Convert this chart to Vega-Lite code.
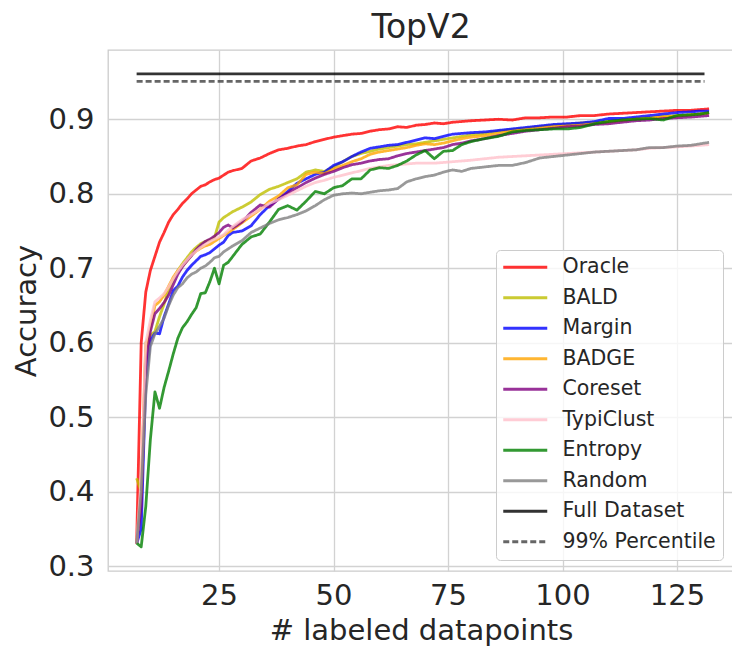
{
  "$schema": "https://vega.github.io/schema/vega-lite/v6.json",
  "width": 626,
  "height": 521,
  "autosize": {"type": "none"},
  "padding": {"left": 108, "top": 50, "right": 0, "bottom": 80},
  "background": "white",
  "config": {
    "font": "DejaVu Sans",
    "view": {"stroke": "#cccccc", "strokeWidth": 1.3},
    "axis": {
      "domain": false, "ticks": false, "tickSize": 0,
      "gridColor": "#d2d2d2", "gridWidth": 1.3,
      "labelFont": "DejaVu Sans", "labelFontSize": 29, "labelColor": "#262626",
      "titleFont": "DejaVu Sans", "titleFontSize": 29, "titleColor": "#262626", "titleFontWeight": "normal"
    }
  },
  "title": {"text": "TopV2", "frame": "group", "font": "DejaVu Sans", "fontSize": 33, "fontWeight": "normal", "color": "#262626", "offset": 5},
  "data": {"values": [
    {"m":"Oracle","x":7,"y":0.33},{"m":"Oracle","x":8,"y":0.6},{"m":"Oracle","x":9,"y":0.668},{"m":"Oracle","x":10,"y":0.697},{"m":"Oracle","x":11,"y":0.716},{"m":"Oracle","x":12,"y":0.735},{"m":"Oracle","x":13,"y":0.748},{"m":"Oracle","x":14,"y":0.762},{"m":"Oracle","x":15,"y":0.772},{"m":"Oracle","x":16,"y":0.779},{"m":"Oracle","x":17,"y":0.787},{"m":"Oracle","x":18,"y":0.793},{"m":"Oracle","x":19,"y":0.8},{"m":"Oracle","x":20,"y":0.805},{"m":"Oracle","x":21,"y":0.81},{"m":"Oracle","x":22,"y":0.812},{"m":"Oracle","x":23,"y":0.816},{"m":"Oracle","x":24,"y":0.819},{"m":"Oracle","x":25,"y":0.821},{"m":"Oracle","x":26,"y":0.825},{"m":"Oracle","x":27,"y":0.829},{"m":"Oracle","x":28,"y":0.831},{"m":"Oracle","x":30,"y":0.834},{"m":"Oracle","x":32,"y":0.844},{"m":"Oracle","x":34,"y":0.848},{"m":"Oracle","x":36,"y":0.854},{"m":"Oracle","x":38,"y":0.859},{"m":"Oracle","x":40,"y":0.861},{"m":"Oracle","x":42,"y":0.864},{"m":"Oracle","x":44,"y":0.866},{"m":"Oracle","x":46,"y":0.87},{"m":"Oracle","x":48,"y":0.873},{"m":"Oracle","x":50,"y":0.876},{"m":"Oracle","x":52,"y":0.878},{"m":"Oracle","x":54,"y":0.88},{"m":"Oracle","x":56,"y":0.881},{"m":"Oracle","x":58,"y":0.884},{"m":"Oracle","x":60,"y":0.886},{"m":"Oracle","x":62,"y":0.887},{"m":"Oracle","x":64,"y":0.89},{"m":"Oracle","x":66,"y":0.889},{"m":"Oracle","x":68,"y":0.892},{"m":"Oracle","x":70,"y":0.893},{"m":"Oracle","x":72,"y":0.895},{"m":"Oracle","x":74,"y":0.894},{"m":"Oracle","x":76,"y":0.896},{"m":"Oracle","x":78,"y":0.897},{"m":"Oracle","x":80,"y":0.898},{"m":"Oracle","x":83,"y":0.899},{"m":"Oracle","x":86,"y":0.9},{"m":"Oracle","x":89,"y":0.899},{"m":"Oracle","x":92,"y":0.902},{"m":"Oracle","x":95,"y":0.902},{"m":"Oracle","x":98,"y":0.903},{"m":"Oracle","x":101,"y":0.903},{"m":"Oracle","x":104,"y":0.905},{"m":"Oracle","x":107,"y":0.905},{"m":"Oracle","x":110,"y":0.907},{"m":"Oracle","x":113,"y":0.908},{"m":"Oracle","x":116,"y":0.909},{"m":"Oracle","x":119,"y":0.91},{"m":"Oracle","x":122,"y":0.911},{"m":"Oracle","x":125,"y":0.912},{"m":"Oracle","x":128,"y":0.912},{"m":"Oracle","x":130,"y":0.913},{"m":"Oracle","x":132,"y":0.914},

    {"m":"BALD","x":7,"y":0.418},{"m":"BALD","x":8,"y":0.4},{"m":"BALD","x":9,"y":0.6},{"m":"BALD","x":10,"y":0.61},{"m":"BALD","x":11,"y":0.615},{"m":"BALD","x":12,"y":0.635},{"m":"BALD","x":13,"y":0.652},{"m":"BALD","x":14,"y":0.672},{"m":"BALD","x":15,"y":0.685},{"m":"BALD","x":16,"y":0.697},{"m":"BALD","x":17,"y":0.706},{"m":"BALD","x":18,"y":0.714},{"m":"BALD","x":19,"y":0.722},{"m":"BALD","x":20,"y":0.728},{"m":"BALD","x":21,"y":0.733},{"m":"BALD","x":22,"y":0.736},{"m":"BALD","x":23,"y":0.738},{"m":"BALD","x":24,"y":0.741},{"m":"BALD","x":25,"y":0.762},{"m":"BALD","x":26,"y":0.768},{"m":"BALD","x":27,"y":0.772},{"m":"BALD","x":28,"y":0.776},{"m":"BALD","x":30,"y":0.782},{"m":"BALD","x":32,"y":0.789},{"m":"BALD","x":34,"y":0.799},{"m":"BALD","x":36,"y":0.806},{"m":"BALD","x":38,"y":0.81},{"m":"BALD","x":40,"y":0.815},{"m":"BALD","x":42,"y":0.82},{"m":"BALD","x":44,"y":0.829},{"m":"BALD","x":46,"y":0.832},{"m":"BALD","x":48,"y":0.83},{"m":"BALD","x":50,"y":0.836},{"m":"BALD","x":52,"y":0.843},{"m":"BALD","x":54,"y":0.85},{"m":"BALD","x":56,"y":0.854},{"m":"BALD","x":58,"y":0.857},{"m":"BALD","x":60,"y":0.86},{"m":"BALD","x":62,"y":0.862},{"m":"BALD","x":64,"y":0.864},{"m":"BALD","x":66,"y":0.866},{"m":"BALD","x":68,"y":0.867},{"m":"BALD","x":70,"y":0.869},{"m":"BALD","x":72,"y":0.871},{"m":"BALD","x":74,"y":0.873},{"m":"BALD","x":76,"y":0.875},{"m":"BALD","x":78,"y":0.877},{"m":"BALD","x":80,"y":0.879},{"m":"BALD","x":83,"y":0.881},{"m":"BALD","x":86,"y":0.884},{"m":"BALD","x":89,"y":0.886},{"m":"BALD","x":92,"y":0.888},{"m":"BALD","x":95,"y":0.89},{"m":"BALD","x":98,"y":0.892},{"m":"BALD","x":101,"y":0.893},{"m":"BALD","x":104,"y":0.895},{"m":"BALD","x":107,"y":0.896},{"m":"BALD","x":110,"y":0.897},{"m":"BALD","x":113,"y":0.899},{"m":"BALD","x":116,"y":0.901},{"m":"BALD","x":119,"y":0.902},{"m":"BALD","x":122,"y":0.904},{"m":"BALD","x":125,"y":0.905},{"m":"BALD","x":128,"y":0.906},{"m":"BALD","x":130,"y":0.907},{"m":"BALD","x":132,"y":0.909},

    {"m":"Margin","x":7,"y":0.33},{"m":"Margin","x":8,"y":0.35},{"m":"Margin","x":9,"y":0.55},{"m":"Margin","x":10,"y":0.603},{"m":"Margin","x":11,"y":0.613},{"m":"Margin","x":12,"y":0.612},{"m":"Margin","x":13,"y":0.635},{"m":"Margin","x":14,"y":0.652},{"m":"Margin","x":15,"y":0.67},{"m":"Margin","x":16,"y":0.676},{"m":"Margin","x":17,"y":0.688},{"m":"Margin","x":18,"y":0.697},{"m":"Margin","x":19,"y":0.704},{"m":"Margin","x":20,"y":0.71},{"m":"Margin","x":21,"y":0.716},{"m":"Margin","x":22,"y":0.718},{"m":"Margin","x":23,"y":0.721},{"m":"Margin","x":24,"y":0.726},{"m":"Margin","x":25,"y":0.731},{"m":"Margin","x":26,"y":0.735},{"m":"Margin","x":27,"y":0.744},{"m":"Margin","x":28,"y":0.748},{"m":"Margin","x":30,"y":0.75},{"m":"Margin","x":32,"y":0.757},{"m":"Margin","x":34,"y":0.772},{"m":"Margin","x":36,"y":0.784},{"m":"Margin","x":38,"y":0.793},{"m":"Margin","x":40,"y":0.803},{"m":"Margin","x":42,"y":0.814},{"m":"Margin","x":44,"y":0.82},{"m":"Margin","x":46,"y":0.826},{"m":"Margin","x":48,"y":0.829},{"m":"Margin","x":50,"y":0.838},{"m":"Margin","x":52,"y":0.843},{"m":"Margin","x":54,"y":0.85},{"m":"Margin","x":56,"y":0.856},{"m":"Margin","x":58,"y":0.861},{"m":"Margin","x":60,"y":0.863},{"m":"Margin","x":62,"y":0.865},{"m":"Margin","x":64,"y":0.866},{"m":"Margin","x":66,"y":0.869},{"m":"Margin","x":68,"y":0.872},{"m":"Margin","x":70,"y":0.875},{"m":"Margin","x":72,"y":0.874},{"m":"Margin","x":74,"y":0.877},{"m":"Margin","x":76,"y":0.88},{"m":"Margin","x":78,"y":0.881},{"m":"Margin","x":80,"y":0.882},{"m":"Margin","x":83,"y":0.883},{"m":"Margin","x":86,"y":0.885},{"m":"Margin","x":89,"y":0.887},{"m":"Margin","x":92,"y":0.889},{"m":"Margin","x":95,"y":0.891},{"m":"Margin","x":98,"y":0.893},{"m":"Margin","x":101,"y":0.894},{"m":"Margin","x":104,"y":0.895},{"m":"Margin","x":107,"y":0.897},{"m":"Margin","x":110,"y":0.901},{"m":"Margin","x":113,"y":0.901},{"m":"Margin","x":116,"y":0.903},{"m":"Margin","x":119,"y":0.905},{"m":"Margin","x":122,"y":0.907},{"m":"Margin","x":125,"y":0.909},{"m":"Margin","x":128,"y":0.91},{"m":"Margin","x":130,"y":0.911},{"m":"Margin","x":132,"y":0.911},

    {"m":"BADGE","x":7,"y":0.33},{"m":"BADGE","x":8,"y":0.4},{"m":"BADGE","x":9,"y":0.59},{"m":"BADGE","x":10,"y":0.62},{"m":"BADGE","x":11,"y":0.65},{"m":"BADGE","x":12,"y":0.655},{"m":"BADGE","x":13,"y":0.664},{"m":"BADGE","x":14,"y":0.676},{"m":"BADGE","x":15,"y":0.688},{"m":"BADGE","x":16,"y":0.697},{"m":"BADGE","x":17,"y":0.703},{"m":"BADGE","x":18,"y":0.71},{"m":"BADGE","x":19,"y":0.718},{"m":"BADGE","x":20,"y":0.723},{"m":"BADGE","x":21,"y":0.727},{"m":"BADGE","x":22,"y":0.73},{"m":"BADGE","x":23,"y":0.732},{"m":"BADGE","x":24,"y":0.736},{"m":"BADGE","x":25,"y":0.74},{"m":"BADGE","x":26,"y":0.744},{"m":"BADGE","x":27,"y":0.748},{"m":"BADGE","x":28,"y":0.752},{"m":"BADGE","x":30,"y":0.761},{"m":"BADGE","x":32,"y":0.77},{"m":"BADGE","x":34,"y":0.779},{"m":"BADGE","x":36,"y":0.79},{"m":"BADGE","x":38,"y":0.797},{"m":"BADGE","x":40,"y":0.808},{"m":"BADGE","x":42,"y":0.812},{"m":"BADGE","x":44,"y":0.826},{"m":"BADGE","x":46,"y":0.829},{"m":"BADGE","x":48,"y":0.827},{"m":"BADGE","x":50,"y":0.833},{"m":"BADGE","x":52,"y":0.838},{"m":"BADGE","x":54,"y":0.843},{"m":"BADGE","x":56,"y":0.847},{"m":"BADGE","x":58,"y":0.853},{"m":"BADGE","x":60,"y":0.856},{"m":"BADGE","x":62,"y":0.858},{"m":"BADGE","x":64,"y":0.86},{"m":"BADGE","x":66,"y":0.862},{"m":"BADGE","x":68,"y":0.865},{"m":"BADGE","x":70,"y":0.867},{"m":"BADGE","x":72,"y":0.866},{"m":"BADGE","x":74,"y":0.868},{"m":"BADGE","x":76,"y":0.871},{"m":"BADGE","x":78,"y":0.874},{"m":"BADGE","x":80,"y":0.876},{"m":"BADGE","x":83,"y":0.878},{"m":"BADGE","x":86,"y":0.881},{"m":"BADGE","x":89,"y":0.884},{"m":"BADGE","x":92,"y":0.886},{"m":"BADGE","x":95,"y":0.888},{"m":"BADGE","x":98,"y":0.89},{"m":"BADGE","x":101,"y":0.891},{"m":"BADGE","x":104,"y":0.892},{"m":"BADGE","x":107,"y":0.894},{"m":"BADGE","x":110,"y":0.896},{"m":"BADGE","x":113,"y":0.898},{"m":"BADGE","x":116,"y":0.9},{"m":"BADGE","x":119,"y":0.901},{"m":"BADGE","x":122,"y":0.903},{"m":"BADGE","x":125,"y":0.904},{"m":"BADGE","x":128,"y":0.906},{"m":"BADGE","x":130,"y":0.907},{"m":"BADGE","x":132,"y":0.908},

    {"m":"Coreset","x":7,"y":0.33},{"m":"Coreset","x":8,"y":0.38},{"m":"Coreset","x":9,"y":0.57},{"m":"Coreset","x":10,"y":0.615},{"m":"Coreset","x":11,"y":0.639},{"m":"Coreset","x":12,"y":0.646},{"m":"Coreset","x":13,"y":0.654},{"m":"Coreset","x":14,"y":0.664},{"m":"Coreset","x":15,"y":0.678},{"m":"Coreset","x":16,"y":0.692},{"m":"Coreset","x":17,"y":0.702},{"m":"Coreset","x":18,"y":0.71},{"m":"Coreset","x":19,"y":0.717},{"m":"Coreset","x":20,"y":0.725},{"m":"Coreset","x":21,"y":0.731},{"m":"Coreset","x":22,"y":0.736},{"m":"Coreset","x":23,"y":0.739},{"m":"Coreset","x":24,"y":0.743},{"m":"Coreset","x":25,"y":0.748},{"m":"Coreset","x":26,"y":0.755},{"m":"Coreset","x":27,"y":0.758},{"m":"Coreset","x":28,"y":0.754},{"m":"Coreset","x":30,"y":0.762},{"m":"Coreset","x":32,"y":0.775},{"m":"Coreset","x":34,"y":0.785},{"m":"Coreset","x":36,"y":0.782},{"m":"Coreset","x":38,"y":0.793},{"m":"Coreset","x":40,"y":0.801},{"m":"Coreset","x":42,"y":0.808},{"m":"Coreset","x":44,"y":0.815},{"m":"Coreset","x":46,"y":0.821},{"m":"Coreset","x":48,"y":0.826},{"m":"Coreset","x":50,"y":0.83},{"m":"Coreset","x":52,"y":0.835},{"m":"Coreset","x":54,"y":0.839},{"m":"Coreset","x":56,"y":0.841},{"m":"Coreset","x":58,"y":0.844},{"m":"Coreset","x":60,"y":0.846},{"m":"Coreset","x":62,"y":0.847},{"m":"Coreset","x":64,"y":0.851},{"m":"Coreset","x":66,"y":0.854},{"m":"Coreset","x":68,"y":0.856},{"m":"Coreset","x":70,"y":0.858},{"m":"Coreset","x":72,"y":0.86},{"m":"Coreset","x":74,"y":0.862},{"m":"Coreset","x":76,"y":0.866},{"m":"Coreset","x":78,"y":0.868},{"m":"Coreset","x":80,"y":0.871},{"m":"Coreset","x":83,"y":0.874},{"m":"Coreset","x":86,"y":0.878},{"m":"Coreset","x":89,"y":0.881},{"m":"Coreset","x":92,"y":0.884},{"m":"Coreset","x":95,"y":0.886},{"m":"Coreset","x":98,"y":0.888},{"m":"Coreset","x":101,"y":0.89},{"m":"Coreset","x":104,"y":0.891},{"m":"Coreset","x":107,"y":0.893},{"m":"Coreset","x":110,"y":0.894},{"m":"Coreset","x":113,"y":0.896},{"m":"Coreset","x":116,"y":0.898},{"m":"Coreset","x":119,"y":0.899},{"m":"Coreset","x":122,"y":0.901},{"m":"Coreset","x":125,"y":0.902},{"m":"Coreset","x":128,"y":0.903},{"m":"Coreset","x":130,"y":0.904},{"m":"Coreset","x":132,"y":0.905},

    {"m":"TypiClust","x":7,"y":0.33},{"m":"TypiClust","x":8,"y":0.42},{"m":"TypiClust","x":9,"y":0.6},{"m":"TypiClust","x":10,"y":0.63},{"m":"TypiClust","x":11,"y":0.655},{"m":"TypiClust","x":12,"y":0.66},{"m":"TypiClust","x":13,"y":0.666},{"m":"TypiClust","x":14,"y":0.675},{"m":"TypiClust","x":15,"y":0.686},{"m":"TypiClust","x":16,"y":0.696},{"m":"TypiClust","x":17,"y":0.704},{"m":"TypiClust","x":18,"y":0.711},{"m":"TypiClust","x":19,"y":0.718},{"m":"TypiClust","x":20,"y":0.723},{"m":"TypiClust","x":21,"y":0.728},{"m":"TypiClust","x":22,"y":0.732},{"m":"TypiClust","x":23,"y":0.736},{"m":"TypiClust","x":24,"y":0.739},{"m":"TypiClust","x":25,"y":0.742},{"m":"TypiClust","x":26,"y":0.745},{"m":"TypiClust","x":27,"y":0.751},{"m":"TypiClust","x":28,"y":0.756},{"m":"TypiClust","x":30,"y":0.765},{"m":"TypiClust","x":32,"y":0.772},{"m":"TypiClust","x":34,"y":0.779},{"m":"TypiClust","x":36,"y":0.787},{"m":"TypiClust","x":38,"y":0.792},{"m":"TypiClust","x":40,"y":0.798},{"m":"TypiClust","x":42,"y":0.804},{"m":"TypiClust","x":44,"y":0.81},{"m":"TypiClust","x":46,"y":0.815},{"m":"TypiClust","x":48,"y":0.818},{"m":"TypiClust","x":50,"y":0.822},{"m":"TypiClust","x":52,"y":0.825},{"m":"TypiClust","x":54,"y":0.828},{"m":"TypiClust","x":56,"y":0.831},{"m":"TypiClust","x":58,"y":0.834},{"m":"TypiClust","x":60,"y":0.836},{"m":"TypiClust","x":62,"y":0.838},{"m":"TypiClust","x":64,"y":0.839},{"m":"TypiClust","x":66,"y":0.84},{"m":"TypiClust","x":68,"y":0.841},{"m":"TypiClust","x":70,"y":0.841},{"m":"TypiClust","x":72,"y":0.841},{"m":"TypiClust","x":74,"y":0.842},{"m":"TypiClust","x":76,"y":0.843},{"m":"TypiClust","x":78,"y":0.844},{"m":"TypiClust","x":80,"y":0.845},{"m":"TypiClust","x":83,"y":0.847},{"m":"TypiClust","x":86,"y":0.849},{"m":"TypiClust","x":89,"y":0.85},{"m":"TypiClust","x":92,"y":0.851},{"m":"TypiClust","x":95,"y":0.852},{"m":"TypiClust","x":98,"y":0.853},{"m":"TypiClust","x":101,"y":0.854},{"m":"TypiClust","x":104,"y":0.855},{"m":"TypiClust","x":107,"y":0.856},{"m":"TypiClust","x":110,"y":0.857},{"m":"TypiClust","x":113,"y":0.858},{"m":"TypiClust","x":116,"y":0.859},{"m":"TypiClust","x":119,"y":0.861},{"m":"TypiClust","x":122,"y":0.862},{"m":"TypiClust","x":125,"y":0.863},{"m":"TypiClust","x":128,"y":0.864},{"m":"TypiClust","x":130,"y":0.865},{"m":"TypiClust","x":132,"y":0.866},

    {"m":"Entropy","x":7,"y":0.331},{"m":"Entropy","x":8,"y":0.326},{"m":"Entropy","x":9,"y":0.38},{"m":"Entropy","x":10,"y":0.47},{"m":"Entropy","x":11,"y":0.534},{"m":"Entropy","x":12,"y":0.512},{"m":"Entropy","x":13,"y":0.54},{"m":"Entropy","x":14,"y":0.562},{"m":"Entropy","x":15,"y":0.585},{"m":"Entropy","x":16,"y":0.606},{"m":"Entropy","x":17,"y":0.62},{"m":"Entropy","x":18,"y":0.628},{"m":"Entropy","x":19,"y":0.638},{"m":"Entropy","x":20,"y":0.647},{"m":"Entropy","x":21,"y":0.666},{"m":"Entropy","x":22,"y":0.667},{"m":"Entropy","x":23,"y":0.682},{"m":"Entropy","x":24,"y":0.7},{"m":"Entropy","x":25,"y":0.679},{"m":"Entropy","x":26,"y":0.704},{"m":"Entropy","x":27,"y":0.708},{"m":"Entropy","x":28,"y":0.716},{"m":"Entropy","x":30,"y":0.732},{"m":"Entropy","x":32,"y":0.742},{"m":"Entropy","x":34,"y":0.746},{"m":"Entropy","x":36,"y":0.762},{"m":"Entropy","x":38,"y":0.779},{"m":"Entropy","x":40,"y":0.784},{"m":"Entropy","x":42,"y":0.778},{"m":"Entropy","x":44,"y":0.79},{"m":"Entropy","x":46,"y":0.803},{"m":"Entropy","x":48,"y":0.8},{"m":"Entropy","x":50,"y":0.808},{"m":"Entropy","x":52,"y":0.811},{"m":"Entropy","x":54,"y":0.82},{"m":"Entropy","x":56,"y":0.82},{"m":"Entropy","x":58,"y":0.832},{"m":"Entropy","x":60,"y":0.835},{"m":"Entropy","x":62,"y":0.834},{"m":"Entropy","x":64,"y":0.838},{"m":"Entropy","x":66,"y":0.844},{"m":"Entropy","x":68,"y":0.852},{"m":"Entropy","x":70,"y":0.858},{"m":"Entropy","x":72,"y":0.847},{"m":"Entropy","x":74,"y":0.857},{"m":"Entropy","x":76,"y":0.858},{"m":"Entropy","x":78,"y":0.866},{"m":"Entropy","x":80,"y":0.87},{"m":"Entropy","x":83,"y":0.874},{"m":"Entropy","x":86,"y":0.877},{"m":"Entropy","x":89,"y":0.883},{"m":"Entropy","x":92,"y":0.885},{"m":"Entropy","x":95,"y":0.886},{"m":"Entropy","x":98,"y":0.887},{"m":"Entropy","x":101,"y":0.887},{"m":"Entropy","x":104,"y":0.889},{"m":"Entropy","x":107,"y":0.894},{"m":"Entropy","x":110,"y":0.897},{"m":"Entropy","x":113,"y":0.899},{"m":"Entropy","x":116,"y":0.9},{"m":"Entropy","x":119,"y":0.901},{"m":"Entropy","x":122,"y":0.899},{"m":"Entropy","x":125,"y":0.905},{"m":"Entropy","x":128,"y":0.906},{"m":"Entropy","x":130,"y":0.907},{"m":"Entropy","x":132,"y":0.909},

    {"m":"Random","x":7,"y":0.331},{"m":"Random","x":8,"y":0.4},{"m":"Random","x":9,"y":0.53},{"m":"Random","x":10,"y":0.595},{"m":"Random","x":11,"y":0.612},{"m":"Random","x":12,"y":0.622},{"m":"Random","x":13,"y":0.633},{"m":"Random","x":14,"y":0.65},{"m":"Random","x":15,"y":0.664},{"m":"Random","x":16,"y":0.674},{"m":"Random","x":17,"y":0.679},{"m":"Random","x":18,"y":0.687},{"m":"Random","x":19,"y":0.692},{"m":"Random","x":20,"y":0.695},{"m":"Random","x":21,"y":0.7},{"m":"Random","x":22,"y":0.703},{"m":"Random","x":23,"y":0.708},{"m":"Random","x":24,"y":0.714},{"m":"Random","x":25,"y":0.716},{"m":"Random","x":26,"y":0.722},{"m":"Random","x":27,"y":0.726},{"m":"Random","x":28,"y":0.73},{"m":"Random","x":30,"y":0.737},{"m":"Random","x":32,"y":0.748},{"m":"Random","x":34,"y":0.754},{"m":"Random","x":36,"y":0.76},{"m":"Random","x":38,"y":0.765},{"m":"Random","x":40,"y":0.768},{"m":"Random","x":42,"y":0.772},{"m":"Random","x":44,"y":0.777},{"m":"Random","x":46,"y":0.784},{"m":"Random","x":48,"y":0.792},{"m":"Random","x":50,"y":0.798},{"m":"Random","x":52,"y":0.8},{"m":"Random","x":54,"y":0.801},{"m":"Random","x":56,"y":0.8},{"m":"Random","x":58,"y":0.802},{"m":"Random","x":60,"y":0.804},{"m":"Random","x":62,"y":0.805},{"m":"Random","x":64,"y":0.807},{"m":"Random","x":66,"y":0.816},{"m":"Random","x":68,"y":0.82},{"m":"Random","x":70,"y":0.823},{"m":"Random","x":72,"y":0.825},{"m":"Random","x":74,"y":0.829},{"m":"Random","x":76,"y":0.832},{"m":"Random","x":78,"y":0.83},{"m":"Random","x":80,"y":0.834},{"m":"Random","x":83,"y":0.836},{"m":"Random","x":86,"y":0.838},{"m":"Random","x":89,"y":0.838},{"m":"Random","x":92,"y":0.842},{"m":"Random","x":95,"y":0.848},{"m":"Random","x":98,"y":0.85},{"m":"Random","x":101,"y":0.852},{"m":"Random","x":104,"y":0.854},{"m":"Random","x":107,"y":0.856},{"m":"Random","x":110,"y":0.857},{"m":"Random","x":113,"y":0.858},{"m":"Random","x":116,"y":0.859},{"m":"Random","x":119,"y":0.862},{"m":"Random","x":122,"y":0.862},{"m":"Random","x":125,"y":0.864},{"m":"Random","x":128,"y":0.865},{"m":"Random","x":130,"y":0.867},{"m":"Random","x":132,"y":0.869},

    {"m":"Full Dataset","x":7,"y":0.961},{"m":"Full Dataset","x":131,"y":0.961},
    {"m":"99% Percentile","x":7,"y":0.951},{"m":"99% Percentile","x":131,"y":0.951}
  ]},
  "mark": {"type": "line", "opacity": 0.8, "strokeJoin": "round"},
  "encoding": {
    "x": {"field": "x", "type": "quantitative", "title": "# labeled datapoints",
      "scale": {"domain": [0.75, 137.44], "nice": false, "zero": false},
      "axis": {"values": [25, 50, 75, 100, 125], "labelPadding": 10, "titlePadding": 6, "labelFlush": false}},
    "y": {"field": "y", "type": "quantitative", "title": "Accuracy",
      "scale": {"domain": [0.2935, 0.993], "nice": false, "zero": false},
      "axis": {"values": [0.3, 0.4, 0.5, 0.6, 0.7, 0.8, 0.9], "format": ".1f", "labelPadding": 14, "titlePadding": 6, "labelFlush": false}},
    "color": {"field": "m", "type": "nominal", "title": null,
      "scale": {"domain": ["Oracle","BALD","Margin","BADGE","Coreset","TypiClust","Entropy","Random","Full Dataset","99% Percentile"],
        "range": ["#ff0000","#bfbf00","#0000ff","#ffa500","#800080","#ffc0cb","#008000","#808080","#000000","#404040"]},
      "legend": {"orient": "none", "legendX": 388, "legendY": 200, "labelFontSize": 20.5, "labelColor": "#262626", "labelFont": "DejaVu Sans",
        "symbolType": "M-4.4,0H4.4", "symbolSize": 100, "symbolOffset": 12, "labelOffset": 27, "padding": 7, "rowPadding": 9.5,
        "fillColor": "rgba(255,255,255,0.8)", "strokeColor": "#cccccc", "cornerRadius": 4}},
    "strokeDash": {"field": "m", "type": "nominal", "title": null,
      "scale": {"domain": ["Oracle","BALD","Margin","BADGE","Coreset","TypiClust","Entropy","Random","Full Dataset","99% Percentile"],
        "range": [[1,0],[1,0],[1,0],[1,0],[1,0],[1,0],[1,0],[1,0],[1,0],[6,3]]}},
    "strokeWidth": {"field": "m", "type": "nominal", "title": null,
      "scale": {"domain": ["Oracle","BALD","Margin","BADGE","Coreset","TypiClust","Entropy","Random","Full Dataset","99% Percentile"],
        "range": [2.8,2.8,2.8,2.8,2.8,2.8,2.8,2.8,4,1.5]}}
  }
}
